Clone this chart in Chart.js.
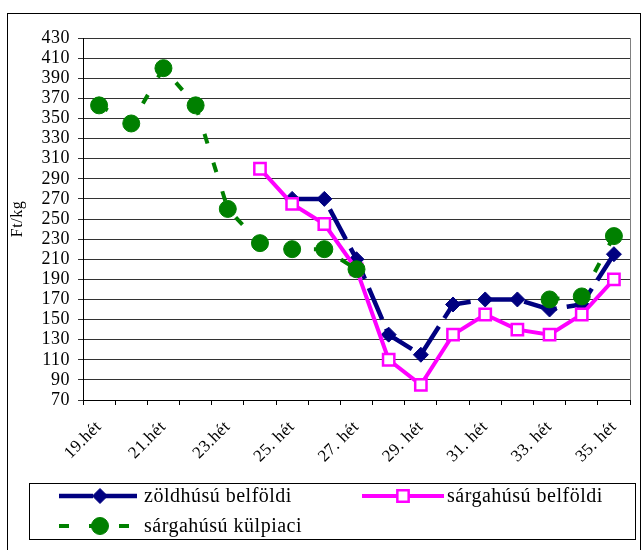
<!DOCTYPE html>
<html>
<head>
<meta charset="utf-8">
<script src="https://cdn.jsdelivr.net/npm/chart.js@4.4.1/dist/chart.umd.min.js"></script>
<style>
  html, body { margin: 0; padding: 0; background: #fff; }
  canvas { display: block; }
</style>
</head>
<body>
<canvas id="chart" width="643" height="550"></canvas>
<script>
// Heti árak, Ft/kg
const weeks = ['19.hét', '20.hét', '21.hét', '22.hét', '23.hét', '24.hét', '25. hét', '26. hét', '27. hét',
    '28. hét', '29. hét', '30. hét', '31. hét', '32. hét', '33. hét', '34. hét', '35. hét'];
const zoldhusuBelfoldi = [null, null, null, null, null, null, 270, 270, 210, 135, 115, 165, 170, 170, 160, 165, 215];
const sargahusuBelfoldi = [null, null, null, null, null, 300, 265, 245, 200, 110, 85, 135, 155, 140, 135, 155, 190];
const sargahusuKulpiaci = [363, 345, 400, 363, 260, 226, 220, 220, 200, null, null, null, null, null, 170, 173, 233];
const yMin = 70, yMax = 430, yStep = 20;

const serif = "'Liberation Serif', 'Times New Roman', Times, serif";
Chart.defaults.font.family = serif;
Chart.defaults.color = '#000';

// a bit of extra letter spacing, the original text is wider than plain Times
const letterSpacing = {
    id: 'letterSpacing',
    beforeLayout(chart) { chart.ctx.letterSpacing = '0.5px'; },
    beforeDraw(chart) { chart.ctx.letterSpacing = '0.5px'; }
};

// outer frame, right edge of the plot area and the boxed legend
const frameAndLegend = {
    id: 'frameAndLegend',
    afterDraw(chart) {
        const ctx = chart.ctx;
        const area = chart.chartArea;
        ctx.save();
        ctx.lineWidth = 1;
        ctx.strokeStyle = '#808080';
        const rx = Math.round(area.right) + 0.5;
        ctx.beginPath();
        ctx.moveTo(rx, area.top);
        ctx.lineTo(rx, area.bottom);
        ctx.stroke();

        ctx.strokeStyle = '#000';
        ctx.strokeRect(7.5, 13.5, 633, 600);
        ctx.strokeRect(29.5, 483.5, 606, 56);

        const items = [
            { ds: 0, x: 59, y: 496 },
            { ds: 1, x: 362, y: 496 },
            { ds: 2, x: 59, y: 526 }
        ];
        items.forEach(it => {
            const ds = chart.data.datasets[it.ds];
            ctx.strokeStyle = ds.borderColor;
            ctx.lineWidth = ds.borderWidth;
            ctx.setLineDash(ds.borderDash || []);
            ctx.beginPath();
            ctx.moveTo(it.x, it.y);
            ctx.lineTo(it.x + 82, it.y);
            ctx.stroke();
            ctx.setLineDash([]);

            ctx.fillStyle = ds.pointBackgroundColor;
            ctx.strokeStyle = ds.pointBorderColor;
            ctx.lineWidth = ds.pointBorderWidth;
            Chart.helpers.drawPoint(ctx, {
                pointStyle: ds.pointStyle,
                radius: ds.pointRadius,
                borderWidth: ds.pointBorderWidth
            }, it.x + 41, it.y);

            ctx.fillStyle = '#000';
            ctx.font = '20px ' + serif;
            ctx.textBaseline = 'middle';
            ctx.textAlign = 'left';
            ctx.fillText(ds.label, it.x + 85, it.y + 1);
        });
        ctx.restore();
    }
};

new Chart(document.getElementById('chart'), {
    type: 'line',
    data: {
        labels: weeks,
        datasets: [{
            label: 'zöldhúsú belföldi',
            data: zoldhusuBelfoldi,
            borderColor: '#000080',
            borderWidth: 4.5,
            borderDash: [34, 10],
            pointStyle: 'rectRot',
            pointRadius: 7.5,
            pointBackgroundColor: '#000080',
            pointBorderColor: '#000080',
            pointBorderWidth: 1,
            order: 2
        }, {
            label: 'sárgahúsú belföldi',
            data: sargahusuBelfoldi,
            borderColor: '#ff00ff',
            borderWidth: 4,
            pointStyle: 'rect',
            pointRadius: 8,
            pointBackgroundColor: '#ffffff',
            pointBorderColor: '#ff00ff',
            pointBorderWidth: 2.5,
            order: 1
        }, {
            label: 'sárgahúsú külpiaci',
            data: sargahusuKulpiaci,
            borderColor: '#008000',
            borderWidth: 4,
            borderDash: [10, 20],
            pointStyle: 'circle',
            pointRadius: 8.5,
            pointBackgroundColor: '#008000',
            pointBorderColor: '#008000',
            pointBorderWidth: 1,
            order: 0
        }]
    },
    options: {
        responsive: false,
        animation: false,
        layout: { padding: { left: 0, top: 38, right: 13, bottom: 0 } },
        plugins: {
            legend: { display: false },
            tooltip: { enabled: false }
        },
        scales: {
            x: {
                offset: true,
                grid: {
                    offset: true,
                    drawOnChartArea: false,
                    drawTicks: true,
                    tickLength: 5,
                    color: '#000'
                },
                border: { color: '#000', width: 1 },
                ticks: {
                    autoSkip: false,
                    minRotation: 45,
                    maxRotation: 45,
                    padding: 12,
                    font: { size: 17 },
                    callback: function(value, index) {
                        return index % 2 === 0 ? this.getLabelForValue(value) : '';
                    }
                },
                afterFit: s => { s.height = 150; }
            },
            y: {
                min: yMin,
                max: yMax,
                grid: {
                    color: '#333',
                    lineWidth: 1,
                    tickLength: 5
                },
                border: { color: '#000', width: 1 },
                ticks: {
                    stepSize: yStep,
                    autoSkip: false,
                    padding: 8,
                    font: { size: 18 }
                },
                title: {
                    display: true,
                    text: 'Ft/kg',
                    font: { size: 16 },
                    padding: { top: 8, bottom: 0 }
                },
                afterFit: s => { s.width = 83; }
            }
        }
    },
    plugins: [letterSpacing, frameAndLegend]
});
</script>
</body>
</html>
